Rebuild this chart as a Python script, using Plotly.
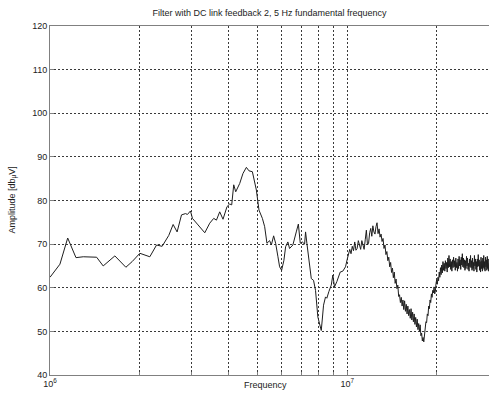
import plotly.graph_objects as go

# ---- data (frequency in MHz, amplitude in dBuV) ----
freq_low_mhz = [1.000, 1.080, 1.147, 1.223, 1.294, 1.435, 1.510, 1.653, 1.800, 1.890,
                2.006, 2.167, 2.283, 2.384, 2.510, 2.596, 2.677, 2.770, 2.857, 2.900,
                2.969, 3.015, 3.149, 3.317, 3.447, 3.555, 3.631, 3.724, 3.821, 3.941,
                4.024, 4.087, 4.151, 4.216, 4.348, 4.460, 4.579, 4.672, 4.796, 4.947,
                5.048, 5.183, 5.276, 5.370, 5.483, 5.556, 5.655, 5.744, 5.847, 5.924,
                6.016, 6.124, 6.205, 6.315, 6.398, 6.564, 6.740, 6.850, 6.952, 7.060,
                7.188, 7.243, 7.317, 7.472, 7.571, 7.704, 7.824, 7.966, 8.072, 8.179,
                8.241, 8.325, 8.454, 8.540, 8.673, 8.837, 8.946, 9.064, 9.228, 9.371,
                9.473, 9.665, 9.869]
amp_low = [62.4, 65.4, 71.4, 66.9, 67.1, 67.0, 65.0, 67.3, 64.7, 66.0,
           67.9, 67.1, 69.8, 69.5, 72.0, 74.5, 72.8, 76.7, 77.0, 76.8,
           77.6, 75.9, 74.4, 72.6, 74.8, 75.9, 75.5, 77.4, 75.7, 78.6,
           79.2, 79.0, 83.6, 82.0, 83.9, 86.2, 87.6, 86.8, 86.6, 82.4,
           77.8, 75.9, 74.0, 70.2, 70.8, 69.8, 71.9, 70.2, 67.1, 64.8,
           64.0, 66.3, 69.4, 70.5, 69.0, 69.8, 72.8, 74.6, 70.2, 70.5,
           70.0, 72.8, 70.2, 65.6, 62.1, 61.7, 59.4, 53.3, 51.4, 50.2,
           52.6, 56.0, 57.9, 57.6, 59.1, 60.6, 62.9, 60.2, 61.4, 62.5,
           63.6, 63.8, 64.8]

freq_high_mhz = [10.0, 10.1, 10.2, 10.3, 10.4, 10.5, 10.6, 10.7, 10.8, 10.9,
                 11.0, 11.1, 11.2, 11.3, 11.4, 11.5, 11.6, 11.7, 11.8, 11.9,
                 12.0, 12.1, 12.2, 12.3, 12.4, 12.5, 12.6, 12.7, 12.8, 12.9,
                 13.0, 13.1, 13.2, 13.3, 13.4, 13.5, 13.6, 13.7, 13.8, 13.9,
                 14.0, 14.1, 14.2, 14.3, 14.4, 14.5, 14.6, 14.7, 14.8, 14.9,
                 15.0, 15.1, 15.2, 15.3, 15.4, 15.5, 15.6, 15.7, 15.8, 15.9,
                 16.0, 16.1, 16.2, 16.3, 16.4, 16.5, 16.6, 16.7, 16.8, 16.9,
                 17.0, 17.1, 17.2, 17.3, 17.4, 17.5, 17.6, 17.7, 17.8, 17.9,
                 18.0, 18.1, 18.2, 18.3, 18.4, 18.5, 18.6, 18.7, 18.8, 18.9,
                 19.0, 19.1, 19.2, 19.3, 19.4, 19.5, 19.6, 19.7, 19.8, 19.9,
                 20.0, 20.1, 20.2, 20.3, 20.4, 20.5, 20.6, 20.7, 20.8, 20.9,
                 21.0, 21.1, 21.2, 21.3, 21.4, 21.5, 21.6, 21.7, 21.8, 21.9,
                 22.0, 22.1, 22.2, 22.3, 22.4, 22.5, 22.6, 22.7, 22.8, 22.9,
                 23.0, 23.1, 23.2, 23.3, 23.4, 23.5, 23.6, 23.7, 23.8, 23.9,
                 24.0, 24.1, 24.2, 24.3, 24.4, 24.5, 24.6, 24.7, 24.8, 24.9,
                 25.0, 25.1, 25.2, 25.3, 25.4, 25.5, 25.6, 25.7, 25.8, 25.9,
                 26.0, 26.1, 26.2, 26.3, 26.4, 26.5, 26.6, 26.7, 26.8, 26.9,
                 27.0, 27.1, 27.2, 27.3, 27.4, 27.5, 27.6, 27.7, 27.8, 27.9,
                 28.0, 28.1, 28.2, 28.3, 28.4, 28.5, 28.6, 28.7, 28.8, 28.9,
                 29.0, 29.1, 29.2, 29.3, 29.4, 29.5, 29.6, 29.7, 29.8, 29.9,
                 30.0]
amp_high = [66.5, 68.0, 68.8, 67.8, 69.5, 68.5, 70.5, 68.6, 69.0, 70.8,
            70.0, 68.8, 70.8, 69.5, 68.8, 71.0, 73.2, 69.8, 70.2, 72.6,
            73.6, 71.8, 74.2, 72.8, 72.3, 74.0, 74.9, 72.4, 73.5, 71.6,
            72.3, 70.6, 71.3, 69.0, 69.8, 67.6, 68.3, 66.2, 67.0, 64.8,
            65.8, 63.5, 64.5, 62.3, 63.6, 61.0, 62.0, 59.8, 60.6, 58.0,
            58.4, 56.6, 57.8, 55.8, 57.2, 55.0, 57.0, 54.6, 56.2, 54.0,
            55.8, 53.6, 55.0, 53.0, 55.2, 52.6, 54.4, 52.2, 54.0, 51.6,
            53.2, 51.0, 52.8, 50.4, 51.8, 50.0, 51.5, 49.0, 49.6, 47.8,
            48.6, 47.6, 49.8, 50.6, 52.2, 52.0, 54.0, 53.6, 55.8, 55.2,
            57.2, 56.6, 58.6, 57.8, 59.4, 58.8, 60.2, 58.6, 59.2, 61.0,
            61.8, 60.8, 62.4, 61.6, 63.6, 62.4, 64.6, 63.0, 65.2, 63.4,
            66.0, 64.0, 65.6, 63.8, 66.2, 64.4, 65.8, 63.6, 66.8, 64.6,
            67.4, 64.8, 66.6, 64.2, 66.0, 63.8, 66.4, 64.6, 67.0, 64.8,
            66.2, 64.0, 66.8, 64.6, 65.8, 63.8, 66.6, 64.4, 67.2, 65.0,
            66.4, 64.2, 67.0, 65.2, 67.8, 64.8, 66.8, 64.6, 66.4, 64.0,
            66.2, 64.4, 67.2, 65.0, 66.8, 64.2, 65.6, 63.8, 66.6, 64.8,
            67.4, 64.6, 66.2, 64.0, 66.8, 64.4, 65.8, 63.8, 67.4, 65.0,
            66.6, 64.2, 66.0, 63.6, 66.6, 64.8, 67.6, 65.0, 66.4, 64.0,
            66.0, 63.6, 67.0, 64.4, 66.2, 63.8, 66.8, 64.6, 67.4, 64.2,
            66.0, 63.8, 67.0, 64.8, 66.4, 64.0, 67.2, 64.4, 66.6, 63.8,
            65.6]

x_major_vals = [1e6, 1e7]
x_major_text = ["10<sup>6</sup>", "10<sup>7</sup>"]
x_minor_vals = [2e6, 3e6, 4e6, 5e6, 6e6, 7e6, 8e6, 9e6, 2e7]
y_tick_vals = [40, 50, 60, 70, 80, 90, 100, 110, 120]

freq_hz = [f * 1e6 for f in freq_low_mhz + freq_high_mhz]
amp = amp_low + amp_high

FONT = "Liberation Sans, Arial, sans-serif"
TXT = "#222222"
GRID = "#3a3a3a"
AXIS = "#808080"

fig = go.Figure()
fig.add_trace(go.Scatter(x=freq_hz, y=amp, mode="lines",
                         line=dict(color="#1e1e1e", width=1),
                         showlegend=False, hoverinfo="skip"))

fig.update_layout(
    width=489, height=394,
    margin=dict(l=50, r=0, t=26, b=19),
    paper_bgcolor="white", plot_bgcolor="white",
    font=dict(family=FONT, size=9, color=TXT),
    title=dict(text="Filter with DC link feedback 2, 5 Hz fundamental frequency",
               x=0.5, xref="paper", xanchor="center",
               y=1 - 13 / 394, yref="container", yanchor="middle",
               font=dict(size=9, color=TXT, family=FONT)),
    showlegend=False,
)

fig.update_xaxes(type="log", range=[6, 7.4771],
                 tickmode="array", tickvals=x_major_vals, ticktext=x_major_text,
                 showgrid=True, gridcolor=GRID, griddash="2px,2px", gridwidth=1,
                 minor=dict(tickmode="array", tickvals=x_minor_vals, showgrid=True,
                            gridcolor=GRID, griddash="2px,2px", gridwidth=1,
                            ticks="inside", ticklen=3, tickcolor=AXIS),
                 showline=True, linecolor=AXIS, linewidth=1, mirror=True,
                 ticks="inside", ticklen=4, tickcolor=AXIS,
                 tickfont=dict(size=9, color=TXT), zeroline=False)
fig.update_yaxes(range=[40, 120], tickmode="array", tickvals=y_tick_vals,
                 showgrid=True, gridcolor=GRID, griddash="2px,2px", gridwidth=1,
                 showline=True, linecolor=AXIS, linewidth=1,
                 ticks="inside", ticklen=4, tickcolor=AXIS,
                 tickfont=dict(size=9, color=TXT), zeroline=False)

fig.add_annotation(text="Frequency", xref="paper", yref="paper",
                   x=0.5 - 4 / 439, y=-(385 - 375) / 349, xanchor="center", yanchor="middle",
                   showarrow=False, font=dict(size=9, color=TXT, family=FONT))
fig.add_annotation(text="Amplitude [db<sub>μ</sub>V]", xref="paper", yref="paper",
                   x=(12 - 50) / 439, y=0.5, xanchor="center", yanchor="middle",
                   textangle=-90, showarrow=False,
                   font=dict(size=9, color=TXT, family=FONT))

fig.write_html("out.html")
